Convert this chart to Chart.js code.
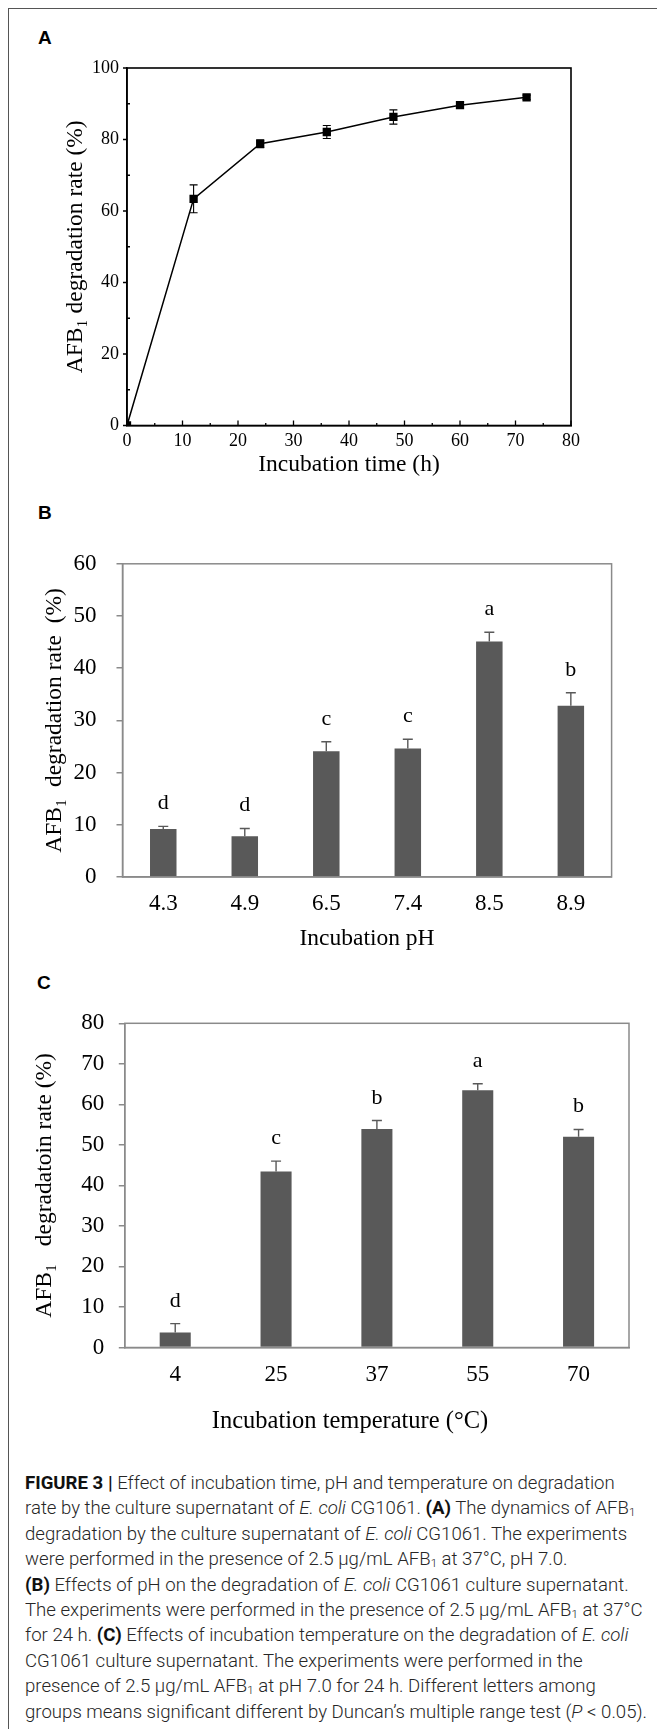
<!DOCTYPE html>
<html>
<head>
<meta charset="utf-8">
<script src="https://cdn.jsdelivr.net/npm/chart.js@4.4.1/dist/chart.umd.min.js"></script>
<style>
  html, body { margin: 0; padding: 0; background: #fff; }
  body { width: 657px; height: 1729px; position: relative; overflow: hidden; }
  #frame { position: absolute; left: 8px; top: 8px; width: 660px; height: 1730px;
           border-left: 1.5px solid #555; border-top: 1.5px solid #555; }
  .letter { position: absolute; font-family: "Liberation Sans", Arial, sans-serif;
            font-weight: bold; font-size: 19px; line-height: 19px; color: #000; }
  canvas { position: absolute; left: 0; }
  #caption { position: absolute; left: 25px; top: 1470px; font-family: Roboto, "Liberation Sans", sans-serif;
             font-weight: 300; font-size: 18px; color: #262626; transform-origin: 0 0; white-space: nowrap; }
  #caption div { height: 25.4px; line-height: 25.4px; }
  #caption b { font-weight: bold; color: #111; }
  #caption sub { font-size: 0.62em; vertical-align: -0.2em; line-height: 0; }
</style>
</head>
<body>
<div id="frame"></div>
<div class="letter" style="left:38px; top:28px;">A</div>
<div class="letter" style="left:38px; top:503px;">B</div>
<div class="letter" style="left:37px; top:973px;">C</div>

<canvas id="chartA" width="657" height="490" style="top:0px;"></canvas>
<canvas id="chartB" width="657" height="430" style="top:530px;"></canvas>
<canvas id="chartC" width="657" height="455" style="top:995px;"></canvas>

<div id="caption">
  <div><b>FIGURE 3 |</b> Effect of incubation time, pH and temperature on degradation</div>
  <div>rate by the culture supernatant of <i>E. coli</i> CG1061. <b>(A)</b> The dynamics of AFB<sub>1</sub></div>
  <div>degradation by the culture supernatant of <i>E. coli</i> CG1061. The experiments</div>
  <div>were performed in the presence of 2.5 µg/mL AFB<sub>1</sub> at 37°C, pH 7.0.</div>
  <div><b>(B)</b> Effects of pH on the degradation of <i>E. coli</i> CG1061 culture supernatant.</div>
  <div id="capWide">The experiments were performed in the presence of 2.5 µg/mL AFB<sub>1</sub> at 37°C</div>
  <div>for 24 h. <b>(C)</b> Effects of incubation temperature on the degradation of <i>E. coli</i></div>
  <div>CG1061 culture supernatant. The experiments were performed in the</div>
  <div>presence of 2.5 µg/mL AFB<sub>1</sub> at pH 7.0 for 24 h. Different letters among</div>
  <div>groups means significant different by Duncan’s multiple range test (<i>P</i> &lt; 0.05).</div>
</div>

<script>
// panel A - incubation time
const timeHours = [0, 12, 24, 36, 48, 60, 72];
const timeRates = [0, 63.4, 78.8, 82.1, 86.3, 89.6, 91.8];
const timeErrors = [0, 3.9, 1.1, 1.8, 2.0, 0.8, 0.6];

// panel B - incubation pH
const phLabels = ['4.3', '4.9', '6.5', '7.4', '8.5', '8.9'];
const phRates = [9.2, 7.8, 24.1, 24.6, 45.1, 32.8];
const phErrors = [0.5, 1.5, 1.8, 1.8, 1.8, 2.5];
const phLetters = ['d', 'd', 'c', 'c', 'a', 'b'];

// panel C - incubation temperature
const tempLabels = ['4', '25', '37', '55', '70'];
const tempRates = [3.7, 43.4, 53.9, 63.5, 52.0];
const tempErrors = [2.2, 2.6, 2.1, 1.6, 1.8];
const tempLetters = ['d', 'c', 'b', 'a', 'b'];

const SERIF = '"Liberation Serif", "Times New Roman", serif';
Chart.defaults.font.family = SERIF;
Chart.defaults.color = '#000';

// box round the plot area
const frameBox = {
    id: 'frameBox',
    afterDraw(chart, args, opts) {
        const a = chart.chartArea;
        const ctx = chart.ctx;
        ctx.save();
        ctx.strokeStyle = opts.color;
        ctx.lineWidth = opts.width;
        ctx.strokeRect(a.left, a.top, a.right - a.left, a.bottom - a.top);
        ctx.restore();
    }
};

// error bars, read from dataset.errors
const errorBars = {
    id: 'errorBars',
    beforeDatasetsDraw(chart, args, opts) {
        const ctx = chart.ctx;
        const yScale = chart.scales.y;
        chart.data.datasets.forEach((ds, di) => {
            if (!ds.errors) return;
            const meta = chart.getDatasetMeta(di);
            meta.data.forEach((el, i) => {
                const e = ds.errors[i];
                if (!e) return;
                const v = typeof ds.data[i] === 'object' ? ds.data[i].y : ds.data[i];
                const yTop = yScale.getPixelForValue(v + e);
                const yBot = opts.both ? yScale.getPixelForValue(v - e) : el.y;
                ctx.save();
                ctx.strokeStyle = opts.color;
                ctx.lineWidth = opts.width;
                ctx.beginPath();
                ctx.moveTo(el.x, yBot);
                ctx.lineTo(el.x, yTop);
                ctx.moveTo(el.x - opts.cap, yTop);
                ctx.lineTo(el.x + opts.cap, yTop);
                if (opts.both) {
                    ctx.moveTo(el.x - opts.cap, yBot);
                    ctx.lineTo(el.x + opts.cap, yBot);
                }
                ctx.stroke();
                ctx.restore();
            });
        });
    }
};

// significance letters above the error bars
const groupLetters = {
    id: 'groupLetters',
    afterDatasetsDraw(chart, args, opts) {
        const ctx = chart.ctx;
        const yScale = chart.scales.y;
        chart.data.datasets.forEach((ds, di) => {
            if (!ds.letters) return;
            const meta = chart.getDatasetMeta(di);
            meta.data.forEach((el, i) => {
                const yTop = yScale.getPixelForValue(ds.data[i] + ds.errors[i]);
                ctx.save();
                ctx.font = '22px ' + SERIF;
                ctx.fillStyle = '#000';
                ctx.textAlign = 'center';
                ctx.textBaseline = 'alphabetic';
                ctx.fillText(ds.letters[i], el.x, yTop - 17);
                ctx.restore();
            });
        });
    }
};

// origin-style ticks for panel A (major/minor, in and out)
const originTicks = {
    id: 'originTicks',
    afterDraw(chart) {
        const ctx = chart.ctx;
        const x = chart.scales.x, y = chart.scales.y;
        const a = chart.chartArea;
        ctx.save();
        ctx.strokeStyle = '#000';
        ctx.lineWidth = 1.3;
        ctx.beginPath();
        for (let v = 0; v <= 100; v += 10) {
            const py = y.getPixelForValue(v);
            if (v % 20 === 0) { ctx.moveTo(a.left - 4, py); ctx.lineTo(a.left, py); }
            else { ctx.moveTo(a.left, py); ctx.lineTo(a.left + 3, py); }
        }
        for (let v = 0; v <= 80; v += 5) {
            const px = x.getPixelForValue(v);
            const len = v % 10 === 0 ? 5 : 2.5;
            ctx.moveTo(px, a.bottom); ctx.lineTo(px, a.bottom - len);
        }
        ctx.stroke();
        ctx.restore();
    }
};

// x title of panel C sits left of the plot centre
const offsetTitle = {
    id: 'offsetTitle',
    afterDraw(chart, args, opts) {
        if (!opts.text) return;
        const ctx = chart.ctx;
        ctx.save();
        ctx.font = opts.size + 'px ' + SERIF;
        ctx.fillStyle = '#000';
        ctx.textAlign = 'center';
        ctx.textBaseline = 'middle';
        ctx.fillText(opts.text, opts.x, opts.y);
        ctx.restore();
    }
};

new Chart(document.getElementById('chartA'), {
    type: 'line',
    data: {
        datasets: [{
            data: timeHours.map((h, i) => ({ x: h, y: timeRates[i] })),
            errors: timeErrors,
            borderColor: '#000',
            backgroundColor: '#000',
            borderWidth: 1.5,
            pointStyle: 'rect',
            pointRadius: 4.8,
            pointHoverRadius: 4.8,
            tension: 0
        }]
    },
    options: {
        responsive: false,
        animation: false,
        devicePixelRatio: 1,
        layout: { padding: { top: 68, right: 86, left: 0, bottom: 0 } },
        plugins: {
            legend: { display: false },
            tooltip: { enabled: false },
            frameBox: { color: '#000', width: 1.6 },
            errorBars: { color: '#000', width: 1.1, cap: 4, both: true }
        },
        scales: {
            x: {
                type: 'linear', min: 0, max: 80,
                ticks: { stepSize: 10, font: { size: 18 }, padding: 5, maxRotation: 0 },
                grid: { display: true, drawOnChartArea: false, drawTicks: false },
                border: { color: '#000', width: 1.6 },
                title: { display: true, text: 'Incubation time (h)', font: { size: 23.5 }, padding: { bottom: 11 } },
                afterFit(s) { s.height = 64.5; }
            },
            y: {
                min: 0, max: 100,
                ticks: { stepSize: 20, font: { size: 18 }, padding: 8 },
                grid: { display: true, drawOnChartArea: false, drawTicks: false },
                border: { color: '#000', width: 1.6 },
                title: { display: true, text: 'AFB₁ degradation rate (%)', font: { size: 23.5 }, padding: { top: 62 } },
                afterFit(s) { s.width = 127; }
            }
        }
    },
    plugins: [frameBox, errorBars, originTicks]
});

function barChart(id, labels, values, errors, letters, opts) {
    return new Chart(document.getElementById(id), {
        type: 'bar',
        data: {
            labels: labels,
            datasets: [{
                data: values,
                errors: errors,
                letters: letters,
                backgroundColor: '#595959',
                borderWidth: 0,
                barPercentage: opts.barPct,
                categoryPercentage: 1
            }]
        },
        options: {
            responsive: false,
            animation: false,
            devicePixelRatio: 1,
            layout: { padding: { top: opts.padTop, right: opts.padRight, left: 0, bottom: 0 } },
            plugins: {
                legend: { display: false },
                tooltip: { enabled: false },
                frameBox: { color: '#8a8a8a', width: 1.5 },
                errorBars: { color: '#595959', width: 1.4, cap: 5, both: false },
                offsetTitle: opts.offsetTitle || {}
            },
            scales: {
                x: {
                    ticks: { font: { size: 23 }, padding: opts.xPad },
                    grid: { display: false, drawTicks: false },
                    border: { color: '#8a8a8a', width: 1.5 },
                    title: { display: !opts.offsetTitle, text: opts.xTitle, font: { size: 23.5 }, padding: { bottom: opts.xTitlePad } },
                    afterFit(s) { s.height = opts.xHeight; }
                },
                y: {
                    min: 0, max: opts.yMax,
                    ticks: { stepSize: 10, font: { size: 23 }, padding: opts.yPad },
                    grid: { display: true, drawOnChartArea: false, drawTicks: true, tickLength: 6, color: '#8a8a8a', lineWidth: 1.5 },
                    border: { color: '#8a8a8a', width: 1.5 },
                    title: { display: true, text: opts.yTitle, font: { size: 23.5 }, padding: { top: opts.yTitlePad } },
                    afterFit(s) { s.width = opts.yWidth; }
                }
            }
        },
        plugins: [frameBox, errorBars, groupLetters, offsetTitle]
    });
}

barChart('chartB', phLabels, phRates, phErrors, phLetters, {
    barPct: 0.325, padTop: 26.7, padRight: 45.4, xPad: 13, xHeight: 83, xTitlePad: 7,
    xTitle: 'Incubation pH', yMax: 60, yPad: 20, yWidth: 122.5, yTitlePad: 41,
    yTitle: 'AFB₁  degradation rate  (%)'
});

barChart('chartC', tempLabels, tempRates, tempErrors, tempLetters, {
    barPct: 0.308, padTop: 26, padRight: 28, xPad: 14, xHeight: 102.5, xTitlePad: 0,
    xTitle: 'Incubation temperature (°C)', yMax: 80, yPad: 14.5, yWidth: 124.8, yTitlePad: 31,
    yTitle: 'AFB₁   degradatoin rate (%)',
    offsetTitle: { text: 'Incubation temperature (°C)', x: 350, y: 427, size: 24.5 }
});

// stretch caption so its widest line matches the figure
const cap = document.getElementById('caption');
const wide = document.getElementById('capWide');
const w = wide.getBoundingClientRect().width;
if (w > 0) {
    cap.style.transform = 'scaleX(' + (622 / w) + ')';
}
</script>
</body>
</html>
